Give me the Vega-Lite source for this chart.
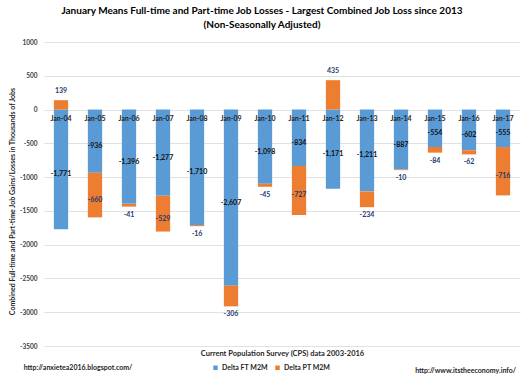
{
  "$schema": "https://vega.github.io/schema/vega-lite/v6.json",
  "width": 476,
  "height": 304,
  "autosize": "none",
  "padding": {"left": 44, "top": 42, "right": 9, "bottom": 39},
  "background": "white",
  "config": {
    "font": "Lato",
    "view": {"stroke": null},
    "axisY": {
      "labelOverlap": false,
      "tickCount": 10,
      "domain": false,
      "ticks": false,
      "gridColor": "#D9D9D9",
      "gridWidth": 0.8,
      "labelFontSize": 6.5,
      "labelFontWeight": "bold",
      "labelColor": "#404040",
      "labelPadding": 7,
      "titleFontSize": 7,
      "titleFontWeight": "bold",
      "titleColor": "#262626"
    },
    "locale": {"number": {"decimal": ".", "thousands": ",", "grouping": [3], "currency": ["$", ""], "minus": "-"}}
  },
  "title": {
    "text": ["January Means Full-time and Part-time Job Losses -  Largest Combined Job Loss since 2013", "(Non-Seasonally Adjusted)"],
    "fontSize": 10,
    "fontWeight": "bold",
    "color": "#000000",
    "anchor": "middle",
    "dx": -20,
    "offset": 9,
    "lineHeight": 14
  },
  "data": {
    "values": [
      {"month": "Jan-04", "series": "Delta FT M2M", "value": -1771},
      {"month": "Jan-04", "series": "Delta PT M2M", "value": 139},
      {"month": "Jan-05", "series": "Delta FT M2M", "value": -936},
      {"month": "Jan-05", "series": "Delta PT M2M", "value": -660},
      {"month": "Jan-06", "series": "Delta FT M2M", "value": -1396},
      {"month": "Jan-06", "series": "Delta PT M2M", "value": -41},
      {"month": "Jan-07", "series": "Delta FT M2M", "value": -1277},
      {"month": "Jan-07", "series": "Delta PT M2M", "value": -529},
      {"month": "Jan-08", "series": "Delta FT M2M", "value": -1710},
      {"month": "Jan-08", "series": "Delta PT M2M", "value": -16},
      {"month": "Jan-09", "series": "Delta FT M2M", "value": -2607},
      {"month": "Jan-09", "series": "Delta PT M2M", "value": -306},
      {"month": "Jan-10", "series": "Delta FT M2M", "value": -1098},
      {"month": "Jan-10", "series": "Delta PT M2M", "value": -45},
      {"month": "Jan-11", "series": "Delta FT M2M", "value": -834},
      {"month": "Jan-11", "series": "Delta PT M2M", "value": -727},
      {"month": "Jan-12", "series": "Delta FT M2M", "value": -1171},
      {"month": "Jan-12", "series": "Delta PT M2M", "value": 435},
      {"month": "Jan-13", "series": "Delta FT M2M", "value": -1211},
      {"month": "Jan-13", "series": "Delta PT M2M", "value": -234},
      {"month": "Jan-14", "series": "Delta FT M2M", "value": -887},
      {"month": "Jan-14", "series": "Delta PT M2M", "value": -10},
      {"month": "Jan-15", "series": "Delta FT M2M", "value": -554},
      {"month": "Jan-15", "series": "Delta PT M2M", "value": -84},
      {"month": "Jan-16", "series": "Delta FT M2M", "value": -602},
      {"month": "Jan-16", "series": "Delta PT M2M", "value": -62},
      {"month": "Jan-17", "series": "Delta FT M2M", "value": -555},
      {"month": "Jan-17", "series": "Delta PT M2M", "value": -716}
    ]
  },
  "encoding": {
    "x": {
      "field": "month",
      "type": "nominal",
      "sort": null,
      "scale": {"paddingInner": 0, "paddingOuter": 0},
      "axis": {
        "labels": false,
        "ticks": false,
        "domain": false,
        "title": "Current Population Survey (CPS) data 2003-2016",
        "titleFontSize": 7.5,
        "titleFontWeight": "bold",
        "titleColor": "#262626",
        "titlePadding": 3,
        "titleX": 238
      }
    }
  },
  "layer": [
    {
      "mark": {"type": "bar", "width": {"band": 0.42}},
      "encoding": {
        "y": {
          "field": "value",
          "type": "quantitative",
          "stack": "zero",
          "scale": {"domain": [-3500, 1000], "nice": false, "zero": false},
          "axis": {
            "values": [1000, 500, 0, -500, -1000, -1500, -2000, -2500, -3000, -3500],
            "format": "d",
            "labelOverlap": false,
            "title": "Combined Full-time and Part-time Job Gains/Losses in Thousands of Jobs",
            "titleX": -29,
            "titleY": 159
          }
        },
        "color": {
          "field": "series",
          "type": "nominal",
          "scale": {"domain": ["Delta FT M2M", "Delta PT M2M"], "range": ["#5B9BD5", "#ED7D31"]},
          "legend": {
            "orient": "none",
            "legendX": 168,
            "legendY": 322,
            "direction": "horizontal",
            "title": null,
            "symbolType": "square",
            "symbolSize": 20,
            "symbolStrokeWidth": 0,
            "labelFontSize": 7,
            "labelFontWeight": "bold",
            "labelColor": "#262626",
            "columnPadding": 6,
            "labelOffset": 3
          }
        },
        "order": {"field": "series", "sort": "ascending"}
      }
    },
    {
      "transform": [
        {"stack": "value", "groupby": ["month"], "sort": [{"field": "series"}], "as": ["v0", "v1"]},
        {"calculate": "(datum.v0 + datum.v1) / 2", "as": "mid"},
        {"filter": "datum.series == 'Delta FT M2M'"}
      ],
      "mark": {"type": "text", "fontSize": 7, "fontWeight": "bold", "color": "#111111", "dy": 5},
      "encoding": {
        "y": {"field": "mid", "type": "quantitative"},
        "text": {"field": "value", "type": "quantitative", "format": ","}
      }
    },
    {
      "transform": [
        {"stack": "value", "groupby": ["month"], "sort": [{"field": "series"}], "as": ["v0", "v1"]},
        {"calculate": "(datum.v0 + datum.v1) / 2", "as": "mid"},
        {"filter": "datum.series == 'Delta PT M2M' && datum.value <= -400"}
      ],
      "mark": {"type": "text", "fontSize": 7, "fontWeight": "bold", "color": "#1F3A6E", "dy": 5},
      "encoding": {
        "y": {"field": "mid", "type": "quantitative"},
        "text": {"field": "value", "type": "quantitative", "format": ","}
      }
    },
    {
      "transform": [
        {"stack": "value", "groupby": ["month"], "sort": [{"field": "series"}], "as": ["v0", "v1"]},
        {"filter": "datum.series == 'Delta PT M2M' && datum.value < 0 && datum.value > -400"}
      ],
      "mark": {"type": "text", "fontSize": 7, "fontWeight": "bold", "color": "#1F3A6E", "baseline": "top", "dy": 4},
      "encoding": {
        "y": {"field": "v1", "type": "quantitative"},
        "text": {"field": "value", "type": "quantitative", "format": ","}
      }
    },
    {
      "transform": [
        {"stack": "value", "groupby": ["month"], "sort": [{"field": "series"}], "as": ["v0", "v1"]},
        {"filter": "datum.series == 'Delta PT M2M' && datum.value > 0"}
      ],
      "mark": {"type": "text", "fontSize": 7, "fontWeight": "bold", "color": "#1F3A6E", "baseline": "bottom", "dy": -6},
      "encoding": {
        "y": {"field": "v1", "type": "quantitative"},
        "text": {"field": "value", "type": "quantitative", "format": ","}
      }
    },
    {
      "transform": [{"filter": "datum.series == 'Delta FT M2M'"}],
      "mark": {"type": "text", "fontSize": 7, "fontWeight": "bold", "color": "#262626", "baseline": "middle", "dy": 9},
      "encoding": {
        "y": {"datum": 0},
        "text": {"field": "month", "type": "nominal"}
      }
    },
    {
      "data": {"values": [{"note": "http://anxietea2016.blogspot.com/"}]},
      "mark": {"type": "text", "fontSize": 7, "fontWeight": "bold", "color": "#262626", "align": "center", "baseline": "middle", "clip": false},
      "encoding": {
        "x": {"datum": "Jan-05", "bandPosition": 0},
        "y": {"datum": -3820},
        "text": {"field": "note", "type": "nominal"}
      }
    },
    {
      "data": {"values": [{"note": "http://www.itstheeconomy.info/"}]},
      "mark": {"type": "text", "fontSize": 7, "fontWeight": "bold", "color": "#262626", "align": "center", "baseline": "middle", "clip": false},
      "encoding": {
        "x": {"datum": "Jan-16", "bandPosition": 0.4},
        "y": {"datum": -3870},
        "text": {"field": "note", "type": "nominal"}
      }
    }
  ]
}
